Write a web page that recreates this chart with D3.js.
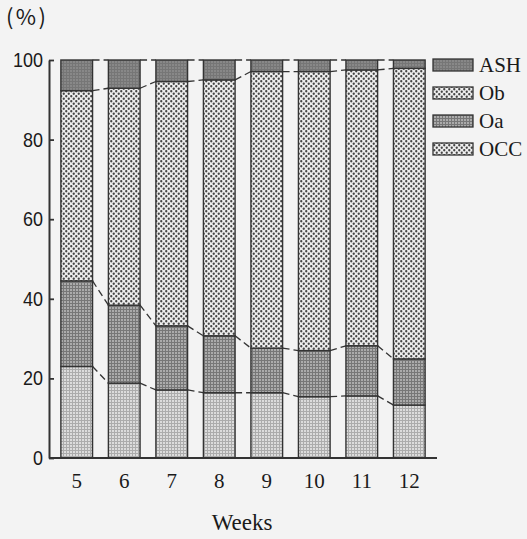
<!DOCTYPE html>
<html>
<head>
<meta charset="utf-8">
<script src="https://cdn.jsdelivr.net/npm/d3@7"></script>
<style>
  body { margin: 0; background: #f3f3f3; }
  svg { display: block; }
</style>
</head>
<body>
<svg width="527" height="539"></svg>
<script>
// values (percent of each bar)
const weeks = [5, 6, 7, 8, 9, 10, 11, 12];
const occ = [23.0, 18.8, 17.1, 16.4, 16.4, 15.4, 15.6, 13.3];
const oa  = [21.5, 19.6, 16.1, 14.3, 11.2, 11.6, 12.6, 11.6];
const ob  = [47.8, 54.5, 61.4, 64.3, 69.5, 70.1, 69.3, 73.0];
const ash = [7.7, 7.1, 5.4, 5.0, 2.9, 2.9, 2.5, 2.1];
const keys = ["OCC", "Oa", "Ob", "ASH"];
const legendKeys = ["ASH", "Ob", "Oa", "OCC"];
const yTicks = [0, 20, 40, 60, 80, 100];

const rows = weeks.map((w, i) => ({ week: w, OCC: occ[i], Oa: oa[i], Ob: ob[i], ASH: ash[i] }));

const svg = d3.select("svg");
const ink = "#333";

// fill patterns, scanned-print look
const defs = svg.append("defs");
const dots = (id) => {
  const p = defs.append("pattern").attr("id", id).attr("patternUnits", "userSpaceOnUse")
    .attr("width", 5).attr("height", 5);
  p.append("rect").attr("width", 5).attr("height", 5).attr("fill", "#eeeeee");
  p.append("circle").attr("cx", 1.25).attr("cy", 1.25).attr("r", 1.15).attr("fill", "#444");
  p.append("circle").attr("cx", 3.75).attr("cy", 3.75).attr("r", 1.15).attr("fill", "#444");
};
const grid = (id, bg, line) => {
  const p = defs.append("pattern").attr("id", id).attr("patternUnits", "userSpaceOnUse")
    .attr("width", 3).attr("height", 3);
  p.append("rect").attr("width", 3).attr("height", 3).attr("fill", bg);
  p.append("path").attr("d", "M0,0.5H3M0.5,0V3").attr("stroke", line).attr("stroke-width", 1);
};
dots("p-ob");
grid("p-oa", "#ababab", "#777");
grid("p-occ", "#dcdcdc", "#acacac");
grid("p-ash", "#888", "#767676");
const fills = { ASH: "url(#p-ash)", Ob: "url(#p-ob)", Oa: "url(#p-oa)", OCC: "url(#p-occ)" };
const legendFills = { ASH: "url(#p-ash)", Ob: "url(#p-ob)", Oa: "url(#p-oa)", OCC: "url(#p-ob)" };

const x = d3.scaleBand().domain(weeks).range([49, 437]).paddingInner(1 / 3).paddingOuter(0.25);
const y = d3.scaleLinear().domain([0, 100]).range([458, 60]);

const series = d3.stack().keys(keys)(rows);

// bars
const layer = svg.append("g").selectAll("g").data(series).enter().append("g");
layer.selectAll("rect")
  .data(d => d.map(v => ({ key: d.key, v })))
  .enter().append("rect")
  .attr("x", d => x(d.v.data.week))
  .attr("y", d => y(d.v[1]))
  .attr("width", x.bandwidth())
  .attr("height", d => y(d.v[0]) - y(d.v[1]))
  .attr("fill", d => fills[d.key])
  .attr("stroke", ink)
  .attr("stroke-width", 1.4);

// dashed links between bars at each boundary
const links = [];
series.forEach(s => {
  for (let i = 0; i < s.length - 1; i++) {
    links.push([s[i], s[i + 1]]);
  }
});
svg.append("g").selectAll("line").data(links).enter().append("line")
  .attr("x1", d => x(d[0].data.week) + x.bandwidth())
  .attr("y1", d => y(d[0][1]))
  .attr("x2", d => x(d[1].data.week))
  .attr("y2", d => y(d[1][1]))
  .attr("stroke", ink)
  .attr("stroke-width", 1.3)
  .attr("stroke-dasharray", "7,4");

// axes
const yAxis = svg.append("g").attr("transform", "translate(49,0)")
  .call(d3.axisLeft(y).tickValues(yTicks).tickSizeInner(-5).tickSizeOuter(0).tickPadding(6));
yAxis.selectAll("text")
  .attr("font-family", "'Liberation Sans', sans-serif")
  .attr("font-size", 20).attr("fill", "#1a1a1a")
  .attr("textLength", d => String(d).length * 10)
  .attr("lengthAdjust", "spacingAndGlyphs");

const xAxis = svg.append("g").attr("transform", "translate(0,458)")
  .call(d3.axisBottom(x).tickSize(0).tickPadding(15));
xAxis.select(".domain").attr("d", "M49,0H437");
xAxis.selectAll("text")
  .attr("font-family", "'Liberation Serif', 'DejaVu Serif', serif")
  .attr("font-size", 21).attr("fill", "#1a1a1a");
svg.selectAll(".domain").attr("stroke", ink).attr("stroke-width", 2);
svg.selectAll(".tick line").attr("stroke", ink).attr("stroke-width", 1.8);

svg.append("text").attr("x", 242).attr("y", 530).attr("text-anchor", "middle")
  .attr("font-family", "'Liberation Serif', 'DejaVu Serif', serif")
  .attr("font-size", 23).attr("fill", "#1a1a1a").text("Weeks");

svg.append("text").attr("x", 6).attr("y", 25)
  .attr("font-family", "'Noto Sans CJK JP', 'DejaVu Sans', sans-serif")
  .attr("font-size", 22).attr("fill", "#1a1a1a")
  .attr("textLength", 40).attr("lengthAdjust", "spacing").text("(%)");

// legend
const legend = svg.append("g").selectAll("g").data(legendKeys).enter().append("g")
  .attr("transform", (d, i) => `translate(433,${65 + i * 28})`);
legend.append("rect").attr("x", 0).attr("y", -6).attr("width", 40).attr("height", 12)
  .attr("fill", d => legendFills[d]).attr("stroke", ink).attr("stroke-width", 1.3);
legend.append("text").attr("x", 46).attr("y", 7)
  .attr("font-family", "'Liberation Serif', 'DejaVu Serif', serif")
  .attr("font-size", 21).attr("fill", "#1a1a1a").text(d => d);
</script>
</body>
</html>
